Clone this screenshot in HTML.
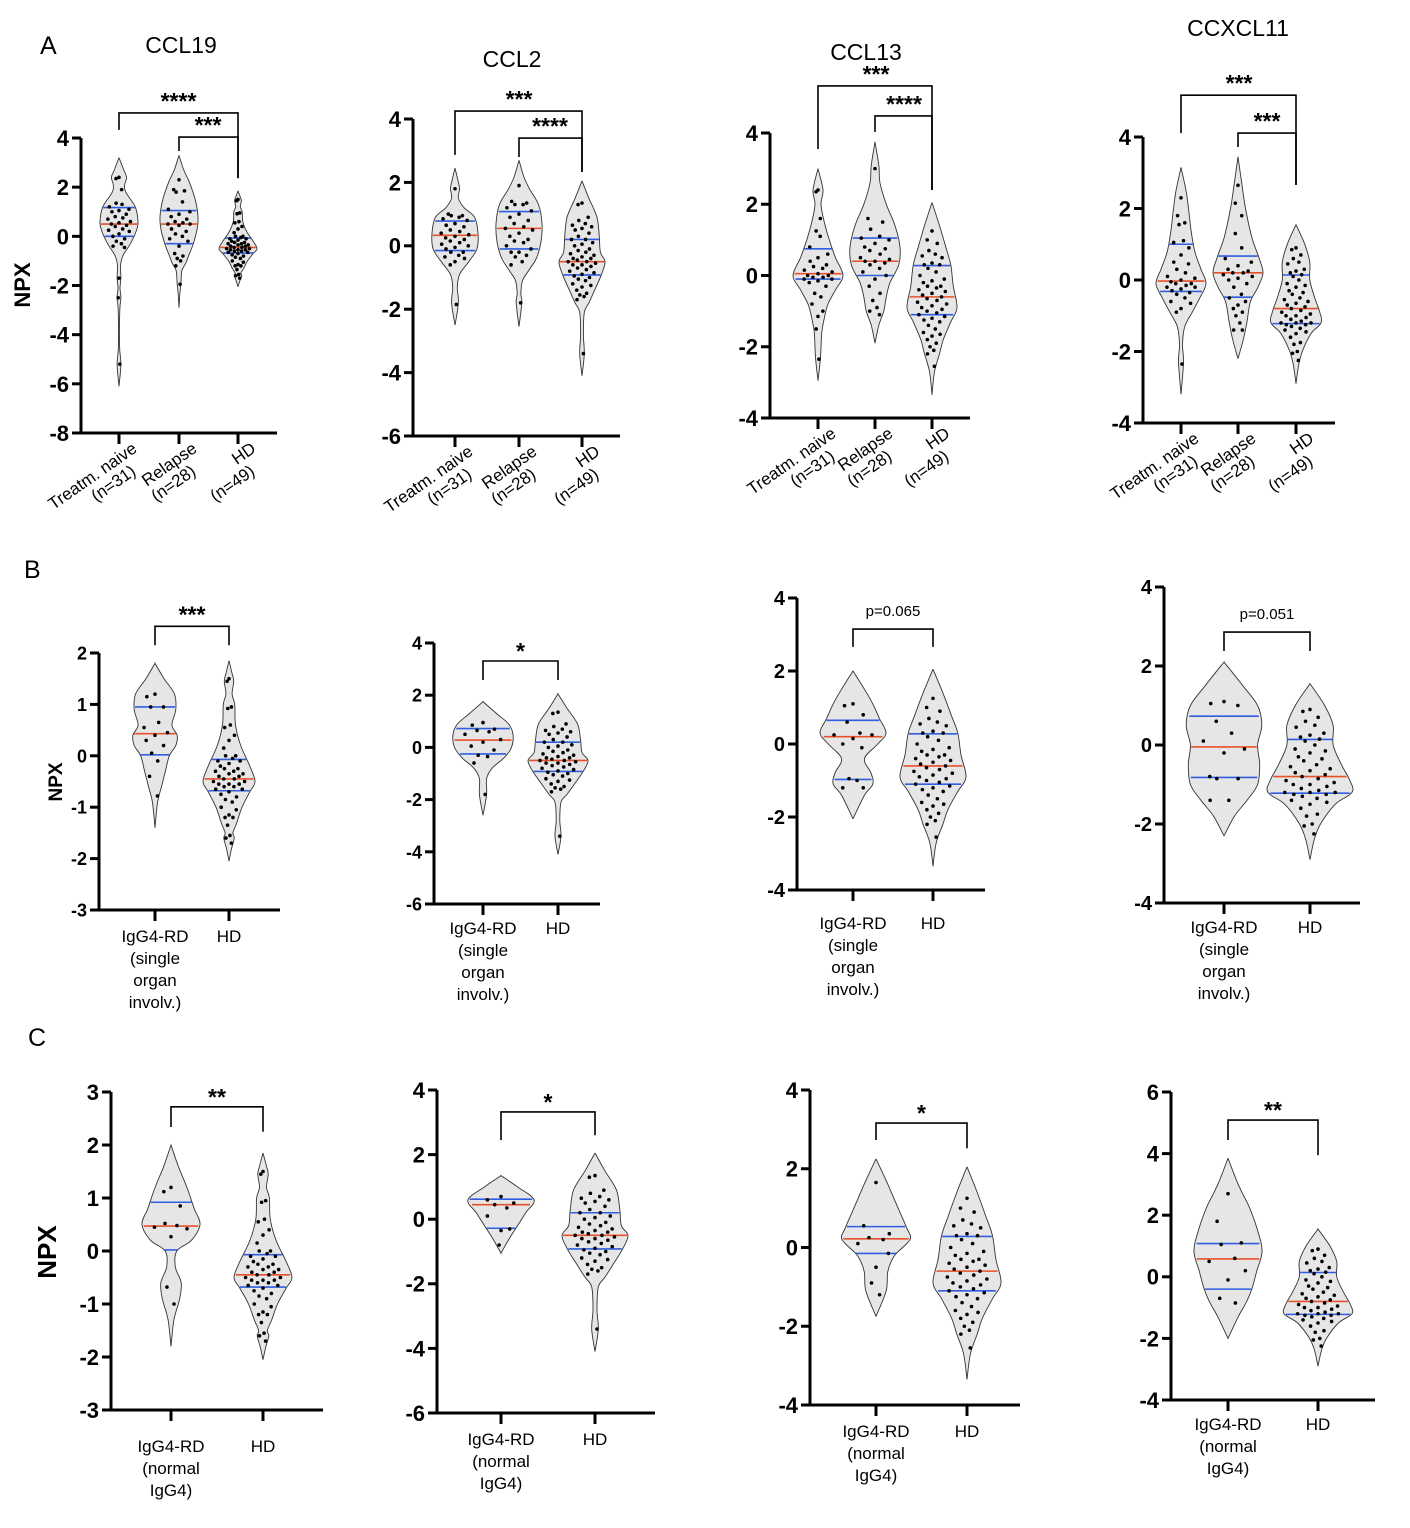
<!DOCTYPE html>
<html><head><meta charset="utf-8"><style>
html,body{margin:0;padding:0;background:#fff;}
svg{display:block;font-family:"Liberation Sans",Arial,sans-serif;}
</style></head><body>
<svg id="fig" width="1410" height="1528" viewBox="0 0 1410 1528" xmlns="http://www.w3.org/2000/svg">
<text x="40" y="54" font-size="25">A</text>
<text x="24" y="578" font-size="25">B</text>
<text x="28" y="1046" font-size="25">C</text>
<text x="181" y="53" font-size="23" text-anchor="middle">CCL19</text>
<text x="512" y="67" font-size="23" text-anchor="middle">CCL2</text>
<text x="866" y="60" font-size="23" text-anchor="middle">CCL13</text>
<text x="1238" y="36" font-size="23" text-anchor="middle">CCXCL11</text>
<text transform="translate(30,285) rotate(-90)" font-size="22" font-weight="bold" text-anchor="middle">NPX</text>
<text transform="translate(62,782) rotate(-90)" font-size="19" font-weight="bold" text-anchor="middle">NPX</text>
<text transform="translate(56,1252) rotate(-90)" font-size="26" font-weight="bold" text-anchor="middle">NPX</text>
<g id="plots"></g>
</svg>
<script>
// ---- CCL19 ----
const ccl19TnDots=[2.4,2.35,1.9,1.35,1.3,1.2,1.1,1.05,1.0,0.9,0.8,0.75,0.7,0.6,0.55,0.5,0.45,0.4,0.3,0.25,0.2,0.1,0,-0.1,-0.2,-0.3,-0.4,-0.45,-1.7,-2.5,-5.2];
const ccl19TnShape=[[3.2,0],[2.7,0.25],[2.4,0.4],[2.1,0.3],[1.8,0.35],[1.2,0.85],[0.6,1.0],[0.2,0.9],[-0.3,0.6],[-0.8,0.2],[-1.2,0.08],[-1.7,0.1],[-2.1,0.05],[-2.5,0.1],[-3,0.04],[-4.5,0.03],[-5.2,0.1],[-6.1,0]];
const ccl19TnQuart=[0,0.5,1.17];
const ccl19RelDots=[2.3,1.9,1.85,1.8,1.4,1.1,1.0,0.9,0.8,0.7,0.6,0.55,0.5,0.5,0.45,0.3,0.2,0.1,0,-0.1,-0.2,-0.4,-0.7,-0.8,-0.9,-1.0,-1.2,-1.95];
const ccl19RelShape=[[3.3,0],[2.7,0.25],[2.2,0.55],[1.5,0.85],[0.8,1.0],[0.3,0.95],[-0.3,0.75],[-0.8,0.5],[-1.1,0.35],[-1.4,0.15],[-1.9,0.1],[-2.3,0.05],[-2.9,0]];
const ccl19RelQuart=[-0.3,0.5,1.05];
const ccl19HdDots=[1.5,1.45,0.95,0.92,0.6,0.55,0.4,0.3,0.15,0,0,-0.05,-0.1,-0.1,-0.15,-0.2,-0.25,-0.25,-0.3,-0.3,-0.35,-0.35,-0.4,-0.4,-0.45,-0.45,-0.5,-0.5,-0.55,-0.55,-0.55,-0.6,-0.6,-0.65,-0.65,-0.7,-0.75,-0.8,-0.85,-0.9,-1.0,-1.05,-1.15,-1.2,-1.2,-1.35,-1.55,-1.6,-1.7];
const ccl19HdShape=[[1.85,0],[1.6,0.12],[1.45,0.18],[1.2,0.12],[1.0,0.22],[0.6,0.25],[0.2,0.45],[-0.2,0.8],[-0.5,1.0],[-0.7,0.8],[-1.0,0.5],[-1.3,0.3],[-1.5,0.15],[-1.6,0.2],[-1.8,0.1],[-2.05,0]];
const ccl19HdQuart=[-0.68,-0.45,-0.07];
const ccl19SingleDots=[1.2,1.15,0.95,0.95,0.65,0.55,0.45,0.4,0.3,0.2,0.05,-0.1,-0.4,-0.78];
const ccl19SingleShape=[[1.8,0],[1.5,0.35],[1.2,0.75],[0.9,0.8],[0.6,0.65],[0.4,0.85],[0.2,0.8],[0,0.55],[-0.3,0.4],[-0.6,0.25],[-0.9,0.1],[-1.4,0]];
const ccl19SingleQuart=[0.02,0.43,0.95];
const ccl19NormalDots=[1.2,1.12,0.85,0.52,0.48,0.45,0.42,0.27,-0.68,-1.0];
const ccl19NormalShape=[[2.0,0],[1.6,0.25],[1.2,0.55],[0.8,0.8],[0.5,1.0],[0.2,0.7],[0,0.2],[-0.3,0.15],[-0.6,0.35],[-0.9,0.3],[-1.3,0.1],[-1.8,0]];
const ccl19NormalQuart=[0.02,0.47,0.92];
// ---- CCL2 ----
const ccl2TnDots=[1.8,1.0,0.95,0.95,0.9,0.85,0.8,0.7,0.65,0.6,0.5,0.45,0.4,0.35,0.3,0.25,0.2,0.15,0.1,0.05,0,-0.05,-0.1,-0.2,-0.2,-0.3,-0.35,-0.4,-0.5,-0.6,-1.85];
const ccl2TnShape=[[2.45,0],[2.0,0.15],[1.8,0.2],[1.5,0.15],[1.2,0.4],[0.9,0.85],[0.4,1.0],[-0.1,0.95],[-0.5,0.6],[-0.9,0.2],[-1.3,0.1],[-1.8,0.15],[-2.5,0]];
const ccl2TnQuart=[-0.15,0.33,0.78];
const ccl2RelDots=[1.9,1.4,1.35,1.3,1.3,1.2,1.1,1.0,0.9,0.8,0.7,0.6,0.55,0.5,0.4,0.3,0.2,0.15,0.1,0,-0.1,-0.2,-0.2,-0.3,-0.35,-0.5,-0.6,-1.8];
const ccl2RelShape=[[2.7,0],[2.2,0.2],[1.8,0.45],[1.3,0.85],[0.7,1.0],[0.1,0.95],[-0.4,0.75],[-0.8,0.4],[-1.1,0.15],[-1.5,0.08],[-1.8,0.12],[-2.55,0]];
const ccl2RelQuart=[-0.1,0.55,1.08];
const ccl2HdDots=[1.35,1.3,0.9,0.8,0.7,0.65,0.6,0.55,0.5,0.4,0.3,0.2,0.2,0.1,0.05,0,-0.1,-0.15,-0.2,-0.25,-0.3,-0.35,-0.4,-0.4,-0.45,-0.5,-0.5,-0.55,-0.6,-0.6,-0.65,-0.7,-0.75,-0.8,-0.85,-0.9,-0.95,-1.0,-1.05,-1.1,-1.2,-1.25,-1.3,-1.4,-1.5,-1.55,-1.6,-1.7,-3.4];
const ccl2HdShape=[[2.05,0],[1.5,0.3],[0.9,0.65],[0.3,0.75],[-0.2,0.8],[-0.5,1.0],[-0.9,0.85],[-1.4,0.55],[-1.8,0.3],[-2.1,0.1],[-2.8,0.06],[-3.4,0.1],[-4.1,0]];
const ccl2HdQuart=[-0.92,-0.5,0.2];
const ccl2SingleDots=[0.95,0.85,0.7,0.65,0.6,0.5,0.3,0.2,0.05,-0.1,-0.3,-0.35,-0.6,-1.8];
const ccl2SingleShape=[[1.75,0],[1.3,0.45],[0.9,0.85],[0.5,1.0],[0,0.95],[-0.4,0.7],[-0.8,0.3],[-1.2,0.12],[-1.8,0.12],[-2.6,0]];
const ccl2SingleQuart=[-0.25,0.28,0.72];
const ccl2NormalDots=[0.7,0.6,0.5,0.45,0.35,0.1,-0.3,-0.35,-0.8];
const ccl2NormalShape=[[1.35,0],[1.0,0.5],[0.6,1.0],[0.2,0.75],[-0.2,0.5],[-0.6,0.25],[-1.05,0]];
const ccl2NormalQuart=[-0.28,0.45,0.62];
// ---- CCL13 ----
const ccl13TnDots=[2.4,2.35,1.6,1.25,1.1,0.8,0.6,0.5,0.4,0.3,0.25,0.2,0.15,0.1,0.05,0,0,-0.05,-0.05,-0.1,-0.1,-0.15,-0.2,-0.3,-0.5,-0.6,-0.8,-1.0,-1.15,-1.5,-2.35];
const ccl13TnShape=[[3,0],[2.4,0.2],[2.0,0.12],[1.5,0.25],[1.0,0.45],[0.5,0.7],[0.0,1.0],[-0.4,0.7],[-0.8,0.4],[-1.2,0.25],[-1.6,0.15],[-2.3,0.1],[-2.95,0]];
const ccl13TnQuart=[-0.1,0.05,0.75];
const ccl13RelDots=[3.0,1.6,1.5,1.3,1.1,1.05,1.0,0.9,0.8,0.75,0.7,0.6,0.5,0.45,0.4,0.4,0.35,0.3,0.2,0.1,0,-0.1,-0.3,-0.5,-0.7,-0.9,-1.0,-1.1];
const ccl13RelShape=[[3.75,0],[3.1,0.15],[2.6,0.2],[2.0,0.45],[1.4,0.8],[0.8,1.0],[0.3,0.95],[-0.2,0.6],[-0.6,0.45],[-1.0,0.35],[-1.4,0.15],[-1.9,0]];
const ccl13RelQuart=[0,0.4,1.05];
const ccl13HdDots=[1.25,1.0,0.9,0.7,0.6,0.55,0.5,0.35,0.3,0.3,0.2,0.1,0,-0.1,-0.15,-0.2,-0.3,-0.3,-0.35,-0.4,-0.45,-0.5,-0.55,-0.6,-0.65,-0.7,-0.75,-0.8,-0.85,-0.9,-0.95,-1.0,-1.05,-1.1,-1.15,-1.2,-1.25,-1.3,-1.4,-1.5,-1.6,-1.65,-1.7,-1.8,-1.9,-2.0,-2.1,-2.2,-2.55];
const ccl13HdShape=[[2.05,0],[1.4,0.3],[0.8,0.55],[0.3,0.75],[-0.3,0.85],[-0.9,1.0],[-1.3,0.75],[-1.8,0.45],[-2.2,0.3],[-2.7,0.1],[-3.35,0]];
const ccl13HdQuart=[-1.1,-0.6,0.28];
const ccl13SingleDots=[1.1,1.05,0.8,0.6,0.3,0.25,0.25,0.15,0,-0.1,-0.95,-1.0,-1.2,-1.2];
const ccl13SingleShape=[[2.0,0],[1.5,0.35],[1.1,0.6],[0.7,0.8],[0.3,1.0],[0,0.75],[-0.4,0.35],[-0.8,0.55],[-1.1,0.6],[-1.4,0.35],[-2.05,0]];
const ccl13SingleQuart=[-0.97,0.2,0.65];
const ccl13NormalDots=[1.65,0.55,0.35,0.25,0.2,0.1,-0.15,-0.5,-0.9,-1.2];
const ccl13NormalShape=[[2.25,0],[1.7,0.3],[1.0,0.65],[0.5,0.9],[0.2,1.0],[-0.2,0.55],[-0.6,0.35],[-1.1,0.3],[-1.75,0]];
const ccl13NormalQuart=[-0.15,0.22,0.53];
// ---- CCXCL11 ----
const cxcl11TnDots=[2.3,1.8,1.6,1.55,1.1,1.05,0.9,0.7,0.5,0.45,0.3,0.2,0.1,0.05,0,-0.05,-0.1,-0.1,-0.15,-0.2,-0.2,-0.25,-0.3,-0.35,-0.4,-0.5,-0.6,-0.65,-0.8,-0.9,-2.35];
const cxcl11TnShape=[[3.15,0],[2.5,0.2],[2.0,0.3],[1.4,0.4],[0.8,0.55],[0.3,0.8],[-0.1,1.0],[-0.5,0.75],[-0.9,0.45],[-1.3,0.15],[-1.8,0.06],[-2.3,0.1],[-3.2,0]];
const cxcl11TnQuart=[-0.32,-0.03,1.0];
const cxcl11RelDots=[2.65,2.15,1.8,1.3,0.9,0.6,0.5,0.4,0.3,0.25,0.2,0.2,0.15,0.1,0.05,0,-0.1,-0.2,-0.4,-0.5,-0.6,-0.7,-0.8,-0.9,-1.0,-1.2,-1.4,-1.4];
const cxcl11RelShape=[[3.45,0],[2.7,0.15],[2.0,0.3],[1.2,0.55],[0.6,0.85],[0.2,1.0],[-0.2,0.8],[-0.6,0.5],[-1.2,0.35],[-1.7,0.2],[-2.2,0]];
const cxcl11RelQuart=[-0.48,0.2,0.67];
const cxcl11HdDots=[0.9,0.85,0.7,0.6,0.5,0.45,0.3,0.25,0.2,0.15,0.1,0,-0.1,-0.15,-0.2,-0.3,-0.35,-0.4,-0.5,-0.55,-0.6,-0.65,-0.7,-0.75,-0.8,-0.85,-0.9,-0.95,-1.0,-1.0,-1.05,-1.1,-1.15,-1.2,-1.2,-1.2,-1.25,-1.25,-1.3,-1.35,-1.4,-1.45,-1.5,-1.6,-1.75,-1.8,-2.0,-2.05,-2.25];
const cxcl11HdShape=[[1.55,0],[1.0,0.35],[0.5,0.55],[0.0,0.55],[-0.5,0.75],[-0.9,0.95],[-1.2,1.0],[-1.5,0.6],[-2.0,0.25],[-2.4,0.1],[-2.9,0]];
const cxcl11HdQuart=[-1.22,-0.8,0.14];
const cxcl11SingleDots=[1.1,1.05,1.0,0.6,0.3,0.1,-0.1,-0.2,-0.8,-0.85,-0.85,-1.4,-1.4];
const cxcl11SingleShape=[[2.1,0],[1.5,0.45],[1.0,0.8],[0.5,0.9],[0,0.8],[-0.5,0.85],[-1.0,0.8],[-1.4,0.55],[-1.8,0.25],[-2.3,0]];
const cxcl11SingleQuart=[-0.82,-0.05,0.73];
const cxcl11NormalDots=[2.7,1.8,1.1,1.05,0.6,0.5,0.2,-0.1,-0.7,-0.85];
const cxcl11NormalShape=[[3.85,0],[3.0,0.3],[2.2,0.65],[1.4,0.9],[0.8,1.0],[0.2,0.85],[-0.4,0.7],[-0.8,0.55],[-1.3,0.3],[-2.0,0]];
const cxcl11NormalQuart=[-0.4,0.58,1.08];
// ---- axis ticks & labels ----
const ticksA1=[4,2,0,-2,-4,-6,-8], ticksA2=[4,2,0,-2,-4,-6], ticksA3=[4,2,0,-2,-4], ticksA4=[4,2,0,-2,-4];
const ticksB1=[2,1,0,-1,-2,-3], ticksB2=[4,2,0,-2,-4,-6], ticksB3=[4,2,0,-2,-4], ticksB4=[4,2,0,-2,-4];
const ticksC1=[3,2,1,0,-1,-2,-3], ticksC2=[4,2,0,-2,-4,-6], ticksC3=[4,2,0,-2,-4], ticksC4=[6,4,2,0,-2,-4];
const labelsA=[["Treatm. naive","(n=31)"],["Relapse","(n=28)"],["HD","(n=49)"]];
const labelsB=[["IgG4-RD","(single","organ","involv.)"],["HD"]];
const labelsC=[["IgG4-RD","(normal","IgG4)"],["HD"]];

const NS="http://www.w3.org/2000/svg";
const root=document.getElementById('plots');
function mk(tag,attrs,parent){const e=document.createElementNS(NS,tag);for(const k in attrs)e.setAttribute(k,attrs[k]);(parent||root).appendChild(e);return e;}
function widthAt(shape,v){for(let i=0;i<shape.length-1;i++){const a=shape[i],b=shape[i+1];if(v<=a[0]&&v>=b[0]){const t=(a[0]-v)/(a[0]-b[0]||1);return a[1]+(b[1]-a[1])*t;}}return 0;}
function smooth(pts){let d="M"+pts[0][0]+","+pts[0][1];for(let i=0;i<pts.length-1;i++){const p0=pts[i-1]||pts[i],p1=pts[i],p2=pts[i+1],p3=pts[i+2]||p2;const c1=[p1[0]+(p2[0]-p0[0])/6,p1[1]+(p2[1]-p0[1])/6],c2=[p2[0]-(p3[0]-p1[0])/6,p2[1]-(p3[1]-p1[1])/6];d+="C"+c1[0].toFixed(1)+","+c1[1].toFixed(1)+" "+c2[0].toFixed(1)+","+c2[1].toFixed(1)+" "+p2[0].toFixed(1)+","+p2[1].toFixed(1);}return d;}
const jit=[0,-0.55,0.55,-0.28,0.28,-0.8,0.8];

function panel(c){
  const g=mk('g',{});
  
  
  const vmax=c.ticks[0],vmin=c.ticks[c.ticks.length-1];
  const Y=v=>c.top+(vmax-v)/(vmax-vmin)*(c.bottom-c.top);
  c.groups.forEach((gr,gi)=>{
    const vg=mk('g',{},g);
    
    
    const right=gr.shape.map(p=>[gr.x+p[1]*c.w,Y(p[0])]);
    const left=gr.shape.slice().reverse().map(p=>[gr.x-p[1]*c.w,Y(p[0])]);
    const d=smooth(right)+" L"+smooth(left).slice(1)+"Z";
    const path=mk('path',{d:d,fill:'#e6e6e6',stroke:'#333','stroke-width':0.9},vg);
    
    
    gr.q.forEach((qv,qi)=>{
      const hw=widthAt(gr.shape,qv)*c.w*0.97;
      const l=mk('line',{x1:gr.x-hw,x2:gr.x+hw,y1:Y(qv),y2:Y(qv),stroke:qi==1?'#e8502a':'#2f5ee0','stroke-width':1.6},vg);
      
      
    });
    gr.dots.forEach((v,i)=>{
      const hw=widthAt(gr.shape,v)*c.w*0.75;
      const dot=mk('circle',{cx:gr.x+hw*jit[i%7],cy:Y(v),r:1.8,fill:'#000'},vg);
      
      
    });
  });
  const ya=mk('line',{x1:c.ax,x2:c.ax,y1:Y(vmax),y2:c.bottom+1.5,stroke:'#000','stroke-width':3},g);
  
  
  const xa=mk('line',{x1:c.ax-1.5,x2:c.end,y1:c.bottom,y2:c.bottom,stroke:'#000','stroke-width':3},g);
  
  
  c.ticks.forEach(t=>{
    const tl=mk('line',{x1:c.ax-9,x2:c.ax,y1:Y(t),y2:Y(t),stroke:'#000','stroke-width':3},g);
    
    
    const tx=mk('text',{x:c.ax-12,y:Y(t)+c.fs*0.36,'text-anchor':'end','font-size':c.fs,'font-weight':'bold'},g);
    tx.textContent=String(t);
    
    
  });
  c.groups.forEach((gr,gi)=>{
    const tl=mk('line',{x1:gr.x,x2:gr.x,y1:c.bottom,y2:c.bottom+11,stroke:'#000','stroke-width':3},g);
    
    
    const lines=c.labels[gi];
    if(c.rotate){
      const t=mk('text',{transform:'translate('+(gr.x+19)+','+(c.bottom+18)+') rotate(-35)','text-anchor':'end','font-size':17},g);
      
      
      lines.forEach((s,li)=>{const ts=mk('tspan',{x:li*-14,dy:li?18:0},t);ts.textContent=s;});
    } else {
      const t=mk('text',{'text-anchor':'middle','font-size':17},g);
      
      
      lines.forEach((s,li)=>{const ts=mk('tspan',{x:gr.x,y:c.bottom+c.ly+li*c.lh},t);ts.textContent=s;});
    }
  });
  c.brackets.forEach(b=>{
    const x1=c.groups[b.from].x,x2=c.groups[b.to].x;
    const p=mk('path',{d:'M'+x1+','+Y(b.l)+' V'+Y(b.y)+' H'+x2+' V'+Y(b.r),fill:'none',stroke:'#000','stroke-width':1.6},g);
    
    
    const t=mk('text',{x:b.lx!==undefined?b.lx:(x1+x2)/2,y:Y(b.y)-b.off,'text-anchor':'middle','font-size':b.p?15:23,'font-weight':b.p?'normal':'bold'},g);
    t.textContent=b.label;
    
    
  });
}
function G(x,dots,shape,q){return {x:x,dots:dots,shape:shape,q:q};}

panel({name:'ccl19-a',ax:81,top:138,bottom:433,end:277,w:19,fs:22,ticks:ticksA1,rotate:true,labels:labelsA,
 groups:[G(119,ccl19TnDots,ccl19TnShape,ccl19TnQuart),G(179,ccl19RelDots,ccl19RelShape,ccl19RelQuart),G(238,ccl19HdDots,ccl19HdShape,ccl19HdQuart)],
 brackets:[{from:0,to:2,y:5.02,l:4.33,r:2.37,label:'****',off:4},{from:1,to:2,y:4.04,l:3.47,r:2.37,label:'***',off:4,lx:208}]});
panel({name:'ccl2-a',ax:413,top:119,bottom:436,end:620,w:23,fs:22,ticks:ticksA2,rotate:true,labels:labelsA,
 groups:[G(455,ccl2TnDots,ccl2TnShape,ccl2TnQuart),G(519,ccl2RelDots,ccl2RelShape,ccl2RelQuart),G(582,ccl2HdDots,ccl2HdShape,ccl2HdQuart)],
 brackets:[{from:0,to:2,y:4.25,l:2.87,r:2.33,label:'***',off:4,lx:519},{from:1,to:2,y:3.4,l:2.8,r:2.33,label:'****',off:4,lx:550}]});
panel({name:'ccl13-a',ax:770,top:133,bottom:418,end:970,w:25,fs:22,ticks:ticksA3,rotate:true,labels:labelsA,
 groups:[G(818,ccl13TnDots,ccl13TnShape,ccl13TnQuart),G(875,ccl13RelDots,ccl13RelShape,ccl13RelQuart),G(932,ccl13HdDots,ccl13HdShape,ccl13HdQuart)],
 brackets:[{from:0,to:2,y:5.32,l:3.55,r:2.4,label:'***',off:4,lx:876},{from:1,to:2,y:4.48,l:4.03,r:2.4,label:'****',off:4,lx:904}]});
panel({name:'ccxcl11-a',ax:1143,top:137,bottom:423,end:1335,w:25,fs:22,ticks:ticksA4,rotate:true,labels:labelsA,
 groups:[G(1181,cxcl11TnDots,cxcl11TnShape,cxcl11TnQuart),G(1238,cxcl11RelDots,cxcl11RelShape,cxcl11RelQuart),G(1296,cxcl11HdDots,cxcl11HdShape,cxcl11HdQuart)],
 brackets:[{from:0,to:2,y:5.17,l:4.11,r:2.66,label:'***',off:4,lx:1239},{from:1,to:2,y:4.11,l:3.72,r:2.66,label:'***',off:4,lx:1267}]});

panel({name:'ccl19-b',ax:99,top:653,bottom:910,end:280,w:26,fs:18,ticks:ticksB1,rotate:false,labels:labelsB,ly:32,lh:22,
 groups:[G(155,ccl19SingleDots,ccl19SingleShape,ccl19SingleQuart),G(229,ccl19HdDots,ccl19HdShape,ccl19HdQuart)],
 brackets:[{from:0,to:1,y:2.52,l:2.15,r:2.15,label:'***',off:4}]});
panel({name:'ccl2-b',ax:434,top:643,bottom:904,end:600,w:30,fs:18,ticks:ticksB2,rotate:false,labels:labelsB,ly:30,lh:22,
 groups:[G(483,ccl2SingleDots,ccl2SingleShape,ccl2SingleQuart),G(558,ccl2HdDots,ccl2HdShape,ccl2HdQuart)],
 brackets:[{from:0,to:1,y:3.31,l:2.58,r:2.58,label:'*',off:2}]});
panel({name:'ccl13-b',ax:797,top:598,bottom:890,end:985,w:33,fs:20,ticks:ticksB3,rotate:false,labels:labelsB,ly:39,lh:22,
 groups:[G(853,ccl13SingleDots,ccl13SingleShape,ccl13SingleQuart),G(933,ccl13HdDots,ccl13HdShape,ccl13HdQuart)],
 brackets:[{from:0,to:1,y:3.15,l:2.66,r:2.66,label:'p=0.065',off:13,p:true}]});
panel({name:'ccxcl11-b',ax:1164,top:587,bottom:903,end:1360,w:42,fs:20,ticks:ticksB4,rotate:false,labels:labelsB,ly:30,lh:22,
 groups:[G(1224,cxcl11SingleDots,cxcl11SingleShape,cxcl11SingleQuart),G(1310,cxcl11HdDots,cxcl11HdShape,cxcl11HdQuart)],
 brackets:[{from:0,to:1,y:2.86,l:2.38,r:2.38,label:'p=0.051',off:13,p:true}]});

panel({name:'ccl19-c',ax:111,top:1092,bottom:1410,end:323,w:29,fs:22,ticks:ticksC1,rotate:false,labels:labelsC,ly:42,lh:22,
 groups:[G(171,ccl19NormalDots,ccl19NormalShape,ccl19NormalQuart),G(263,ccl19HdDots,ccl19HdShape,ccl19HdQuart)],
 brackets:[{from:0,to:1,y:2.72,l:2.34,r:2.25,label:'**',off:2}]});
panel({name:'ccl2-c',ax:437,top:1090,bottom:1413,end:655,w:33,fs:22,ticks:ticksC2,rotate:false,labels:labelsC,ly:32,lh:22,
 groups:[G(501,ccl2NormalDots,ccl2NormalShape,ccl2NormalQuart),G(595,ccl2HdDots,ccl2HdShape,ccl2HdQuart)],
 brackets:[{from:0,to:1,y:3.32,l:2.45,r:2.6,label:'*',off:2}]});
panel({name:'ccl13-c',ax:810,top:1090,bottom:1405,end:1020,w:34,fs:22,ticks:ticksC3,rotate:false,labels:labelsC,ly:32,lh:22,
 groups:[G(876,ccl13NormalDots,ccl13NormalShape,ccl13NormalQuart),G(967,ccl13HdDots,ccl13HdShape,ccl13HdQuart)],
 brackets:[{from:0,to:1,y:3.16,l:2.73,r:2.52,label:'*',off:2}]});
panel({name:'ccxcl11-c',ax:1171,top:1092,bottom:1400,end:1375,w:34,fs:22,ticks:ticksC4,rotate:false,labels:labelsC,ly:30,lh:22,
 groups:[G(1228,cxcl11NormalDots,cxcl11NormalShape,cxcl11NormalQuart),G(1318,cxcl11HdDots,cxcl11HdShape,cxcl11HdQuart)],
 brackets:[{from:0,to:1,y:5.09,l:4.44,r:3.95,label:'**',off:2}]});
</script>
</body></html>
